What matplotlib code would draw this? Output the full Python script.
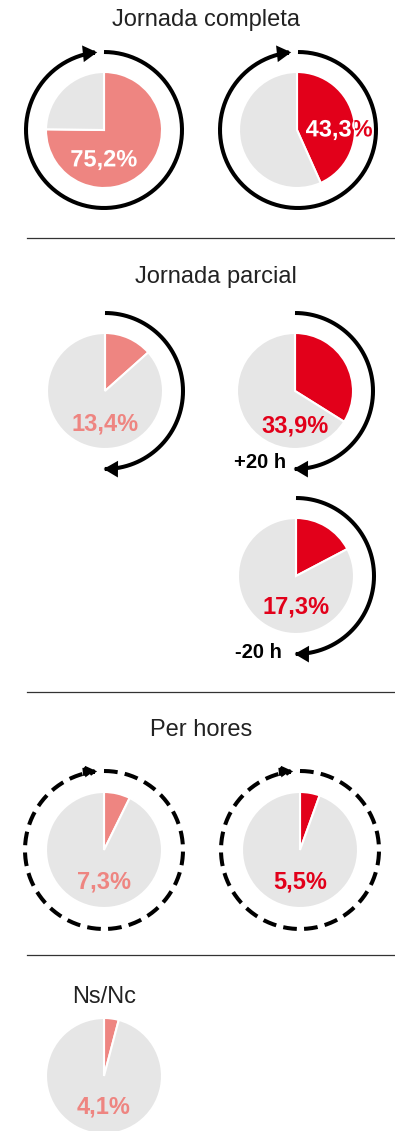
import numpy as np
import matplotlib
matplotlib.use("Agg")
import matplotlib.pyplot as plt
from matplotlib.patches import FancyArrowPatch, PathPatch
from matplotlib.path import Path
from matplotlib.textpath import TextPath
from matplotlib.font_manager import FontProperties
from matplotlib.transforms import Affine2D

plt.rcParams['font.family'] = ['Liberation Sans', 'DejaVu Sans']

W, H = 395, 1131

# data
section_titles = ['Jornada completa', 'Jornada parcial', 'Per hores', 'Ns/Nc']
completa = [75.2, 43.3]
parcial = [13.4, 33.9, 17.3]
parcial_tags = ['', '+20 h', '-20 h']
per_hores = [7.3, 5.5]
ns_nc = [4.1]

PINK = '#ee8581'
RED = '#e2001a'
GREY = '#e6e6e6'
R = 58
LABEL_PT = 17


def fmt(v):
    return f"{v:.1f}".replace('.', ',') + '%'


fig = plt.figure(figsize=(W / 100, H / 100), dpi=100)
ax = fig.add_axes([0, 0, 1, 1])


def split_label(s, x, y, wedge, color):
    # label drawn as outlines: slice colour everywhere, white on the slice
    fp = FontProperties(family='Liberation Sans', weight='bold')
    tp = TextPath((0, 0), s, size=LABEL_PT * 100 / 72, prop=fp)
    ext = tp.get_extents()
    tr = Affine2D().translate(x - (ext.x0 + ext.x1) / 2,
                              y - (ext.y0 + ext.y1) / 2) + ax.transData
    ax.add_patch(PathPatch(tp, facecolor=color, edgecolor='none',
                           transform=tr))
    white = PathPatch(tp, facecolor='white', edgecolor='none', transform=tr)
    ax.add_patch(white)
    white.set_clip_path(wedge)


def pie(cx, cy, v, color, inside=False, dy=31, dx=0):
    y = H - cy
    wedges, _ = ax.pie([v, 100 - v], colors=[color, GREY], startangle=90,
                       counterclock=False, center=(cx, y), radius=R,
                       wedgeprops=dict(edgecolor='white', linewidth=1.5))
    tx, ty = cx + dx, y - dy
    if inside:
        split_label(fmt(v), tx, ty, wedges[0], color)
    else:
        ax.text(tx, ty, fmt(v), color=color, fontsize=LABEL_PT,
                fontweight='bold', ha='center', va='center')


def arc(cx, cy, a0, a1, r=78, dashed=False):
    th = np.radians(np.linspace(a0, a1, 200))
    verts = np.column_stack([cx + r * np.cos(th), H - cy + r * np.sin(th)])
    p = FancyArrowPatch(path=Path(verts),
                        arrowstyle='-|>,head_length=0.6,head_width=0.35',
                        mutation_scale=10, color='black', lw=2.9,
                        joinstyle='miter', capstyle='butt')
    if dashed:
        p.set_linestyle((0, (3.4, 1.8)))
    ax.add_patch(p)


def title(x, y, s):
    ax.text(x, H - y, s, fontsize=17, color='#222222', ha='center',
            va='center')


def divider(y):
    ax.plot([27, W], [H - y, H - y], color='#333333', lw=0.9)


# Jornada completa
title(206, 20, section_titles[0])
arc(104, 130, 90, -265)
arc(298, 130, 90, -265)
pie(104, 130, completa[0], PINK, inside=True, dy=30)
pie(297, 130, completa[1], RED, inside=True, dy=0, dx=42)
divider(238)

# Jornada parcial
title(216, 277, section_titles[1])
arc(105, 391, 90, -91)
arc(295, 391, 90, -91)
arc(296, 576, 90, -91)
pie(105, 391, parcial[0], PINK, dy=33)
pie(295, 391, parcial[1], RED, dy=35)
pie(296, 576, parcial[2], RED, dy=31)
ax.text(260, H - 463, parcial_tags[1], fontsize=14.5, fontweight='bold',
        ha='center', va='center', color='black')
ax.text(258, H - 653, parcial_tags[2], fontsize=14.5, fontweight='bold',
        ha='center', va='center', color='black')
divider(692)

# Per hores
title(201, 730, section_titles[2])
arc(104, 850, 90, -265, r=79, dashed=True)
arc(300, 850, 90, -265, r=79, dashed=True)
pie(104, 850, per_hores[0], PINK, dy=32)
pie(300, 850, per_hores[1], RED, dy=32)
divider(955)

# Ns/Nc
title(104, 997, section_titles[3])
pie(104, 1076, ns_nc[0], PINK, dy=31)

ax.set_xlim(0, W)
ax.set_ylim(0, H)
ax.set_aspect('equal')
ax.axis('off')
fig.savefig('out.png', dpi=100)
